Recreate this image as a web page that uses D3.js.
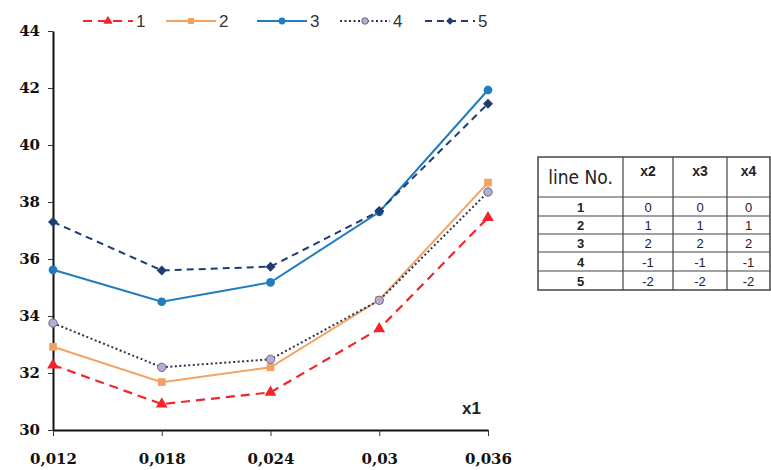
<!DOCTYPE html>
<html>
<head>
<meta charset="utf-8">
<script src="https://cdn.jsdelivr.net/npm/d3@7"></script>
<style>
  body { margin: 0; background: #fff; }
  svg { display: block; }
  .serif { font-family: 'DejaVu Serif', serif; font-weight: bold; }
</style>
</head>
<body>
<div id="plot"></div>
<script>
// chart values
const x1Values = [0.012, 0.018, 0.024, 0.03, 0.036];
const x1Labels = ["0,012", "0,018", "0,024", "0,03", "0,036"];
const yTicks = [30, 32, 34, 36, 38, 40, 42, 44];

const line1 = [32.28, 30.91, 31.32, 33.55, 37.45];
const line2 = [32.92, 31.68, 32.2, 34.56, 38.68];
const line3 = [35.62, 34.5, 35.18, 37.65, 41.93];
const line4 = [33.75, 32.2, 32.48, 34.55, 38.35];
const line5 = [37.3, 35.6, 35.73, 37.68, 41.45];

const seriesNames = ["1", "2", "3", "4", "5"];

const tableHeader = ["line No.", "x2", "x3", "x4"];
const tableRows = [
  ["1", "0", "0", "0"],
  ["2", "1", "1", "1"],
  ["3", "2", "2", "2"],
  ["4", "-1", "-1", "-1"],
  ["5", "-2", "-2", "-2"]
];

const width = 771, height = 470;
const margin = { top: 31, right: 283, bottom: 40, left: 53 };
const sans = "'Liberation Sans', Arial, sans-serif";

const svg = d3.select('#plot').append('svg')
  .attr('width', width)
  .attr('height', height);

const x = d3.scaleLinear().domain([0.012, 0.036]).range([margin.left, width - margin.right]);
const y = d3.scaleLinear().domain([30, 44]).range([height - margin.bottom, margin.top]);

// styles per series
const styles = [
  { data: line1, color: "#f0262b", dash: "9 6", width: 2.2, symbol: d3.symbolTriangle, rot: 0, fill: "#f0262b", stroke: "none", size: 60 },
  { data: line2, color: "#f4a261", dash: null, width: 2, symbol: d3.symbolSquare, rot: 0, fill: "#f4a261", stroke: "none", size: 60 },
  { data: line3, color: "#1f7cc0", dash: null, width: 2, symbol: d3.symbolCircle, rot: 0, fill: "#1f7cc0", stroke: "none", size: 60 },
  { data: line4, color: "#2e3350", dash: "2 2.5", width: 2, symbol: d3.symbolCircle, rot: 0, fill: "#b3aed2", stroke: "#6a6a8a", size: 55 },
  { data: line5, color: "#1f3c74", dash: "7 5", width: 2, symbol: d3.symbolSquare, rot: 45, fill: "#1f3c74", stroke: "none", size: 50 }
];

// axes
const xAxis = d3.axisBottom(x)
  .tickValues(x1Values)
  .tickFormat((d, i) => x1Labels[i])
  .tickSizeInner(6)
  .tickSizeOuter(0)
  .tickPadding(17);

const yAxis = d3.axisLeft(y)
  .tickValues(yTicks)
  .tickFormat(d3.format("d"))
  .tickSizeInner(5)
  .tickSizeOuter(0)
  .tickPadding(8);

const gx = svg.append('g')
  .attr('transform', `translate(0,${height - margin.bottom})`)
  .call(xAxis)
  .attr('font-family', null);
gx.selectAll('.tick text')
  .attr('class', 'serif')
  .attr('font-size', 15).attr('fill', '#111');
gx.select('.domain').attr('stroke', '#111').attr('stroke-width', 2);
gx.selectAll('.tick line').attr('stroke', '#333');

const gy = svg.append('g')
  .attr('transform', `translate(${margin.left},0)`)
  .call(yAxis)
  .attr('font-family', null);
gy.selectAll('.tick text')
  .attr('class', 'serif')
  .attr('font-size', 15).attr('fill', '#111');
gy.select('.domain').attr('stroke', '#111').attr('stroke-width', 2);
gy.selectAll('.tick line').attr('stroke', '#333');

// x1 label
svg.append('text')
  .attr('x', 481)
  .attr('y', 414)
  .attr('text-anchor', 'end')
  .attr('font-family', sans)
  .attr('font-weight', 'bold')
  .attr('font-size', 17)
  .attr('fill', '#222')
  .text('x1');

// lines
const lineGen = d3.line()
  .x((d, i) => x(x1Values[i]))
  .y(d => y(d));

const plot = svg.append('g');

styles.forEach(s => {
  plot.append('path')
    .datum(s.data)
    .attr('fill', 'none')
    .attr('stroke', s.color)
    .attr('stroke-width', s.width)
    .attr('stroke-dasharray', s.dash)
    .attr('d', lineGen);
});

styles.forEach(s => {
  plot.selectAll(null)
    .data(s.data)
    .join('path')
    .attr('transform', (d, i) => `translate(${x(x1Values[i])},${y(d)}) rotate(${s.rot})`)
    .attr('d', d3.symbol().type(s.symbol).size(s.size))
    .attr('fill', s.fill)
    .attr('stroke', s.stroke)
    .attr('stroke-width', 1);
});

// legend
const legendX = [83, 166, 257, 340, 425];
const legend = svg.append('g').attr('transform', 'translate(0,21)');
styles.forEach((s, i) => {
  const g = legend.append('g').attr('transform', `translate(${legendX[i]},0)`);
  g.append('line')
    .attr('x1', 0).attr('x2', 50)
    .attr('stroke', s.color)
    .attr('stroke-width', 1.8)
    .attr('stroke-dasharray', s.dash);
  g.append('path')
    .attr('transform', `translate(25,0) rotate(${s.rot})`)
    .attr('d', d3.symbol().type(s.symbol).size(s.size * 0.6))
    .attr('fill', s.fill)
    .attr('stroke', s.stroke);
  g.append('text')
    .attr('x', 53)
    .attr('y', 6)
    .attr('font-family', sans)
    .attr('font-size', 17)
    .attr('fill', '#333')
    .text(seriesNames[i]);
});

// table
const colEdges = [538, 623, 673, 727, 770];
const rowEdges = [157, 197, 216, 234, 252, 271, 290];
const table = svg.append('g');

table.append('rect')
  .attr('x', colEdges[0]).attr('y', rowEdges[0])
  .attr('width', colEdges[4] - colEdges[0])
  .attr('height', rowEdges[6] - rowEdges[0])
  .attr('fill', '#fff')
  .attr('stroke', '#444')
  .attr('stroke-width', 1.5);

colEdges.slice(1, 4).forEach(cx => {
  table.append('line')
    .attr('x1', cx).attr('x2', cx)
    .attr('y1', rowEdges[0]).attr('y2', rowEdges[6])
    .attr('stroke', '#444').attr('stroke-width', 1.2);
});
rowEdges.slice(1, 6).forEach(ry => {
  table.append('line')
    .attr('x1', colEdges[0]).attr('x2', colEdges[4])
    .attr('y1', ry).attr('y2', ry)
    .attr('stroke', '#444').attr('stroke-width', 1.2);
});

tableHeader.forEach((h, j) => {
  const cx = (colEdges[j] + colEdges[j + 1]) / 2;
  table.append('text')
    .attr('x', cx)
    .attr('y', j === 0 ? 184 : 176)
    .attr('text-anchor', 'middle')
    .attr('font-family', j === 0 ? "'Liberation Sans Narrow', 'DejaVu Sans Condensed', sans-serif" : sans)
    .attr('font-weight', j === 0 ? 'normal' : 'bold')
    .attr('font-size', j === 0 ? 19 : 14)
    .attr('fill', '#222')
    .text(h);
});

tableRows.forEach((row, i) => {
  const cy = (rowEdges[i + 1] + rowEdges[i + 2]) / 2 + 5;
  row.forEach((v, j) => {
    const cx = (colEdges[j] + colEdges[j + 1]) / 2;
    table.append('text')
      .attr('x', cx)
      .attr('y', cy)
      .attr('text-anchor', 'middle')
      .attr('font-family', sans)
      .attr('font-weight', j === 0 ? 'bold' : 'normal')
      .attr('font-size', 13)
      .attr('fill', '#222')
      .text(v);
  });
});
</script>
</body>
</html>
